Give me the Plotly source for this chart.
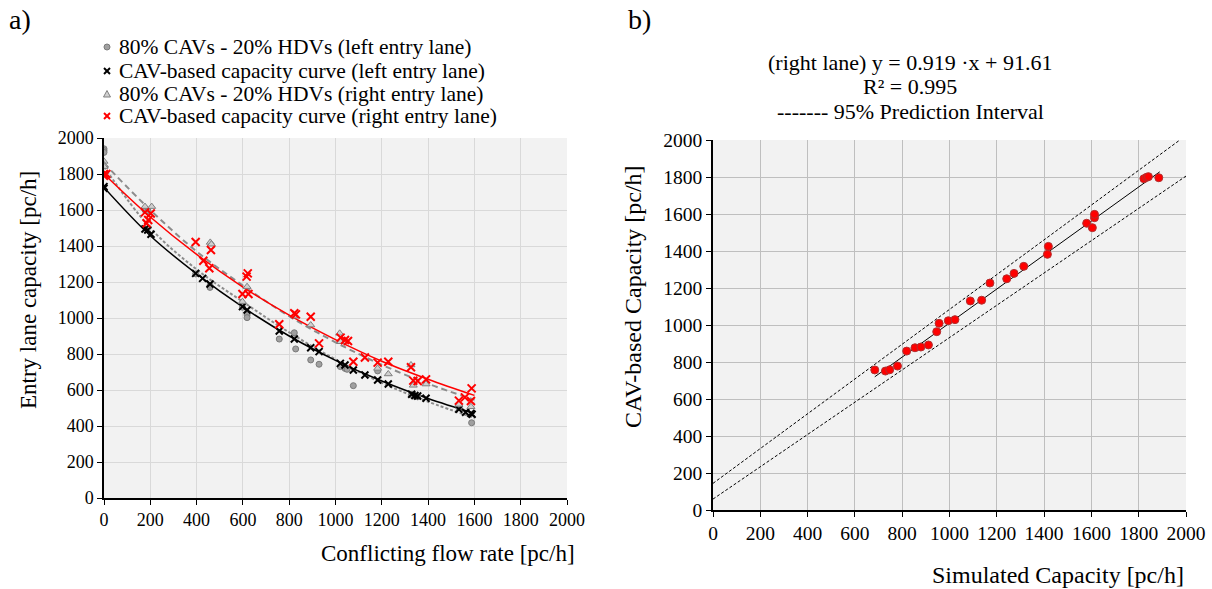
import plotly.graph_objects as go

# ---------------- Panel a) data ----------------
hdv_left_x = [0, 0, 0, 177, 190, 396, 458, 458, 598, 618, 618, 757, 822, 828, 893, 929, 1021, 1041, 1050, 1077, 1182, 1329, 1343, 1355, 1533, 1588]
hdv_left_y = [1940, 1930, 1920, 1600, 1595, 1245, 1180, 1170, 1060, 1017, 1002, 883, 918, 828, 767, 743, 730, 720, 715, 624, 706, 572, 565, 562, 502, 418]

cav_left_x = [0, 0, 177, 189, 203, 396, 426, 458, 598, 618, 757, 822, 893, 929, 1021, 1041, 1077, 1127, 1182, 1228, 1329, 1343, 1355, 1391, 1533, 1562, 1585, 1590]
cav_left_y = [1730, 1720, 1494, 1489, 1465, 1248, 1220, 1189, 1063, 1044, 928, 883, 835, 813, 748, 739, 711, 683, 656, 633, 576, 569, 567, 554, 493, 476, 470, 465]

hdv_right_x = [0, 0, 0, 177, 206, 459, 464, 598, 618, 825, 893, 1018, 1022, 1182, 1228, 1326, 1336, 1391, 1533, 1585]
hdv_right_y = [1870, 1850, 1841, 1619, 1619, 1420, 1410, 1091, 1174, 1010, 961, 915, 868, 720, 689, 739, 626, 633, 520, 507]

cav_right_x = [0, 0, 10, 177, 202, 191, 184, 396, 462, 429, 455, 616, 621, 598, 624, 757, 822, 829, 893, 929, 1022, 1041, 1054, 1077, 1127, 1182, 1228, 1326, 1336, 1355, 1391, 1533, 1559, 1585, 1588]
cav_right_y = [1800, 1790, 1800, 1587, 1581, 1544, 1526, 1422, 1378, 1318, 1276, 1230, 1248, 1133, 1133, 965, 1026, 1020, 1007, 859, 891, 878, 872, 757, 781, 752, 757, 726, 652, 650, 659, 541, 559, 539, 609]

# trend curves
curve_x = [0, 200, 400, 600, 800, 1000, 1200, 1400, 1600]
curve_cav_left = [1725, 1457, 1245, 1060, 900, 765, 650, 553, 470]
curve_cav_right = [1800, 1561, 1353, 1172, 1016, 880, 760, 660, 570]
curve_hdv_right = [1860, 1600, 1370, 1180, 1010, 865, 740, 635, 545]
curve_hdv_left = [1840, 1500, 1270, 1090, 920, 770, 640, 535, 445]

legend_labels = [
    "80% CAVs - 20% HDVs (left entry lane)",
    "CAV-based capacity curve (left entry lane)",
    "80% CAVs - 20% HDVs (right entry lane)",
    "CAV-based capacity curve (right entry lane)",
]

# ---------------- Panel b) data ----------------
sim_cap = [684, 729, 747, 780, 819, 854, 879, 911, 946, 956, 995, 1023, 1088, 1136, 1171, 1242, 1273, 1314, 1414, 1418, 1580, 1604, 1613, 1613, 1822, 1833, 1841, 1885]
cav_cap = [757, 751, 758, 778, 859, 877, 881, 892, 964, 1009, 1023, 1029, 1130, 1134, 1227, 1250, 1279, 1317, 1382, 1425, 1550, 1526, 1580, 1598, 1791, 1798, 1802, 1796]

reg_x = [684, 1889]
reg_y = [720, 1828]
pi_up_x = [0, 1974]
pi_up_y = [144, 2000]
pi_lo_x = [0, 2000]
pi_lo_y = [59, 1805]

ticks = [0, 200, 400, 600, 800, 1000, 1200, 1400, 1600, 1800, 2000]

FONT = "Liberation Serif"
W, H = 1212, 589

def px(v):
    return v / W
def py(v):
    return 1 - v / H

# marker styles
sty_hdv_left = dict(symbol="circle", size=6, color="#a0a0a0", line=dict(color="#7a7a7a", width=1))
sty_cav_left = dict(symbol="x-thin", size=7, color="black", line=dict(color="black", width=2))
sty_hdv_right = dict(symbol="triangle-up", size=7, color="#d0d0d0", line=dict(color="#808080", width=1))
sty_cav_right = dict(symbol="x-thin", size=8, color="red", line=dict(color="red", width=2))

fig = go.Figure()

# trend lines (panel a)
fig.add_trace(go.Scatter(x=curve_x, y=curve_hdv_right, mode="lines", line=dict(color="#8c8c8c", width=2, dash="6px,4px", shape="spline"), xaxis="x", yaxis="y"))
fig.add_trace(go.Scatter(x=curve_x, y=curve_hdv_left, mode="lines", line=dict(color="#8c8c8c", width=2, dash="3px,2px", shape="spline"), xaxis="x", yaxis="y"))
fig.add_trace(go.Scatter(x=curve_x, y=curve_cav_left, mode="lines", line=dict(color="black", width=1.5, shape="spline"), xaxis="x", yaxis="y"))
fig.add_trace(go.Scatter(x=curve_x, y=curve_cav_right, mode="lines", line=dict(color="red", width=1.5, shape="spline"), xaxis="x", yaxis="y"))

# scatter (panel a)
fig.add_trace(go.Scatter(x=hdv_left_x, y=hdv_left_y, mode="markers", name=legend_labels[0], marker=sty_hdv_left, xaxis="x", yaxis="y"))
fig.add_trace(go.Scatter(x=cav_left_x, y=cav_left_y, mode="markers", name=legend_labels[1], marker=sty_cav_left, xaxis="x", yaxis="y"))
fig.add_trace(go.Scatter(x=hdv_right_x, y=hdv_right_y, mode="markers", name=legend_labels[2], marker=sty_hdv_right, xaxis="x", yaxis="y"))
fig.add_trace(go.Scatter(x=cav_right_x, y=cav_right_y, mode="markers", name=legend_labels[3], marker=sty_cav_right, xaxis="x", yaxis="y"))

# panel b
fig.add_trace(go.Scatter(x=pi_up_x, y=pi_up_y, mode="lines", line=dict(color="black", width=1, dash="3px,2px"), xaxis="x2", yaxis="y2"))
fig.add_trace(go.Scatter(x=pi_lo_x, y=pi_lo_y, mode="lines", line=dict(color="black", width=1, dash="3px,2px"), xaxis="x2", yaxis="y2"))
fig.add_trace(go.Scatter(x=reg_x, y=reg_y, mode="lines", line=dict(color="black", width=1), xaxis="x2", yaxis="y2"))
fig.add_trace(go.Scatter(x=sim_cap, y=cav_cap, mode="markers",
                         marker=dict(symbol="circle", size=8, color="red", line=dict(color="#b03030", width=1)), xaxis="x2", yaxis="y2"))

axis_common = dict(range=[0, 2000], tickvals=ticks, ticks="outside", ticklen=5, tickcolor="black",
                   showline=True, linecolor="black", linewidth=1.5, zeroline=False, fixedrange=True,
                   automargin=False)

fig.update_layout(
    width=W, height=H,
    margin=dict(l=0, r=0, t=0, b=0, pad=0, autoexpand=False),
    paper_bgcolor="white",
    plot_bgcolor="#f2f2f2",
    font=dict(family=FONT, color="black"),
    showlegend=False,
    xaxis=dict(domain=[px(104), px(567)], anchor="y", gridcolor="#d9d9d9",
               tickfont=dict(family=FONT, size=18), **axis_common),
    yaxis=dict(domain=[py(498), py(138)], anchor="x", gridcolor="#d9d9d9",
               tickfont=dict(family=FONT, size=18), **axis_common),
    xaxis2=dict(domain=[px(713), px(1186)], anchor="y2", gridcolor="#bfbfbf",
                tickfont=dict(family=FONT, size=19.5), **axis_common),
    yaxis2=dict(domain=[py(510), py(140)], anchor="x2", gridcolor="#bfbfbf",
                tickfont=dict(family=FONT, size=19.5), **axis_common),
)

# manual legend glyphs as paper shapes
leg_x = 107
leg_rows = [47, 71, 94, 116]
shapes = []
r = 3
cy = leg_rows[0]
shapes.append(dict(type="circle", xref="paper", yref="paper", x0=px(leg_x - r), x1=px(leg_x + r),
                   y0=py(cy + r), y1=py(cy - r), fillcolor="#a0a0a0", line=dict(color="#7a7a7a", width=1)))
for cy, col in [(leg_rows[1], "black"), (leg_rows[3], "red")]:
    shapes.append(dict(type="line", xref="paper", yref="paper", x0=px(leg_x - r), x1=px(leg_x + r),
                       y0=py(cy - r), y1=py(cy + r), line=dict(color=col, width=2)))
    shapes.append(dict(type="line", xref="paper", yref="paper", x0=px(leg_x - r), x1=px(leg_x + r),
                       y0=py(cy + r), y1=py(cy - r), line=dict(color=col, width=2)))
cy = leg_rows[2]
tri = "M {:.5f},{:.5f} L {:.5f},{:.5f} L {:.5f},{:.5f} Z".format(
    px(leg_x - 3.5), py(cy + 3), px(leg_x + 3.5), py(cy + 3), px(leg_x), py(cy - 3.5))
shapes.append(dict(type="path", xref="paper", yref="paper", path=tri, fillcolor="#d0d0d0",
                   line=dict(color="#808080", width=1)))
fig.update_layout(shapes=shapes)

ann = []
for row, lab in zip(leg_rows, legend_labels):
    ann.append(dict(text=lab, x=px(117), y=py(row), xanchor="left", yanchor="middle", font=dict(size=21.5)))
ann.append(dict(text="a)", x=px(7), y=py(20), xanchor="left", yanchor="middle", font=dict(size=28)))
ann.append(dict(text="b)", x=px(626), y=py(20), xanchor="left", yanchor="middle", font=dict(size=28)))
ann.append(dict(text="Entry lane capacity [pc/h]", x=px(28), y=py(290), textangle=-90, xanchor="center", yanchor="middle", font=dict(size=23)))
ann.append(dict(text="Conflicting flow rate [pc/h]", x=px(448), y=py(553), xanchor="center", yanchor="middle", font=dict(size=23)))
ann.append(dict(text="CAV-based Capacity [pc/h]", x=px(633), y=py(297), textangle=-90, xanchor="center", yanchor="middle", font=dict(size=24)))
ann.append(dict(text="Simulated Capacity [pc/h]", x=px(1058), y=py(575), xanchor="center", yanchor="middle", font=dict(size=24)))
ann.append(dict(text="(right lane) y = 0.919 ·x + 91.61", x=px(910), y=py(62), xanchor="center", yanchor="middle", font=dict(size=22)))
ann.append(dict(text="R² = 0.995", x=px(910), y=py(86), xanchor="center", yanchor="middle", font=dict(size=22)))
ann.append(dict(text="------- 95% Prediction Interval", x=px(910), y=py(111), xanchor="center", yanchor="middle", font=dict(size=22)))
for a in ann:
    a.update(xref="paper", yref="paper", showarrow=False)
    a["font"].update(family=FONT, color="black")
fig.update_layout(annotations=ann)

# remove the default page margin so the figure fills the window exactly
fig.write_html("out.html", config={"displayModeBar": False},
               post_script="document.body.style.margin='0';document.body.style.overflow='hidden';")
